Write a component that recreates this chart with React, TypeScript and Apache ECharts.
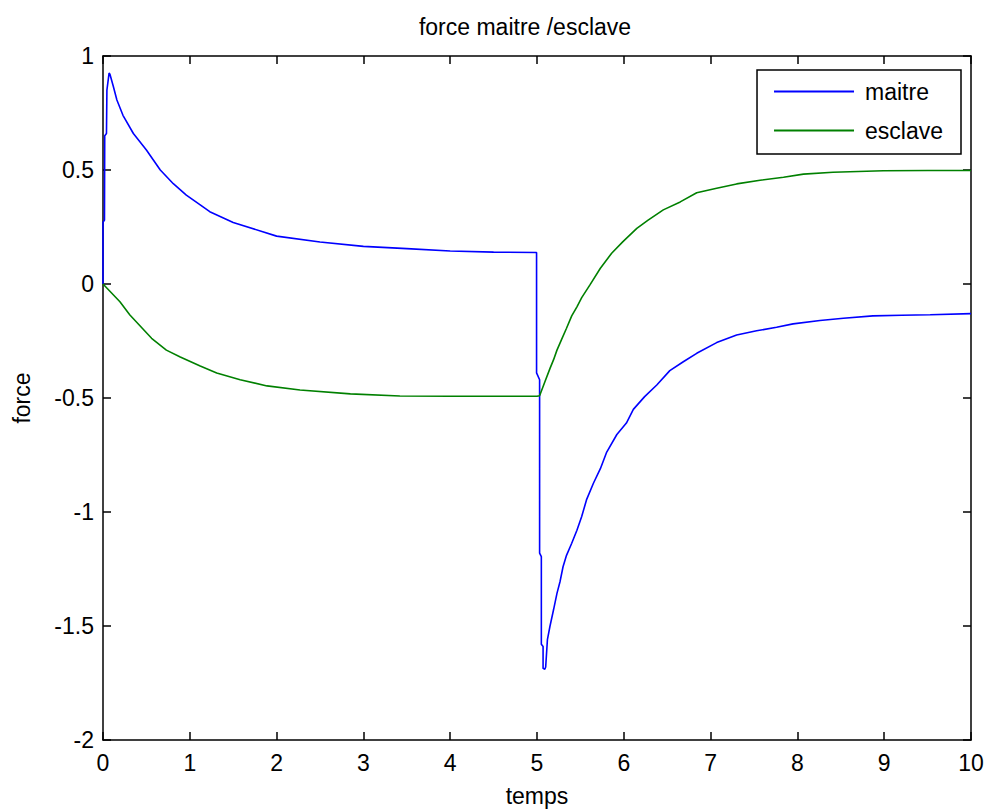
import React, { useEffect, useRef } from "react";
import * as echarts from "echarts";

const titleText = "force maitre /esclave";
const xName = "temps";
const yName = "force";
const seriesNames = ["maitre", "esclave"];

const xTicks = { min: 0, max: 10, interval: 1 };
const yTicks = { min: -2, max: 1, interval: 0.5 };

const maitreT = [
  0, 0, 0.017, 0.02, 0.04, 0.045, 0.07, 0.08, 0.12, 0.16, 0.23, 0.35, 0.5, 0.66, 0.81, 0.96, 1.12, 1.23, 1.5,
  2.0, 2.5, 3.0, 3.5, 4.0, 4.5, 4.995, 4.995, 5.03, 5.03, 5.05, 5.05, 5.07, 5.07, 5.09, 5.1, 5.12, 5.15, 5.19,
  5.23, 5.265, 5.3, 5.34, 5.4, 5.46, 5.515, 5.57, 5.65, 5.73, 5.8, 5.92, 6.03, 6.11, 6.24, 6.38, 6.53, 6.69,
  6.84, 7.07, 7.3, 7.53, 7.76, 7.95, 8.26, 8.53, 8.87, 9.2, 9.53, 10,
];
const maitreV = [
  0, 0.27, 0.28, 0.65, 0.66, 0.85, 0.925, 0.92, 0.865, 0.807, 0.74, 0.66, 0.588, 0.5, 0.44, 0.39, 0.347, 0.317,
  0.27, 0.21, 0.184, 0.165, 0.155, 0.145, 0.14, 0.138, -0.39, -0.42, -1.18, -1.196, -1.58, -1.59, -1.686, -1.69,
  -1.68, -1.56, -1.5, -1.43, -1.357, -1.306, -1.24, -1.19, -1.137, -1.08, -1.02, -0.947, -0.874, -0.81, -0.74,
  -0.66, -0.61, -0.55, -0.494, -0.443, -0.38, -0.34, -0.304, -0.257, -0.224, -0.205, -0.19, -0.175, -0.16,
  -0.15, -0.14, -0.137, -0.135, -0.13,
];

const esclaveT = [
  0, 0.195, 0.31, 0.56, 0.73, 0.89, 1.12, 1.31, 1.58, 1.89, 2.27, 2.85, 3.42, 4.0, 4.5, 5.0, 5.03, 5.09, 5.15,
  5.19, 5.23, 5.28, 5.34, 5.4, 5.46, 5.515, 5.61, 5.73, 5.86, 5.99, 6.15, 6.28, 6.455, 6.65, 6.84, 7.07, 7.3,
  7.57, 7.84, 8.07, 8.41, 8.99, 9.5, 10,
];
const esclaveV = [
  0, -0.078, -0.136, -0.238, -0.29, -0.32, -0.36, -0.39, -0.42, -0.447, -0.465, -0.482, -0.491, -0.492, -0.492,
  -0.492, -0.49, -0.43, -0.37, -0.333, -0.29, -0.246, -0.194, -0.14, -0.1, -0.06, -0.004, 0.069, 0.135, 0.186,
  0.244, 0.28, 0.325, 0.36, 0.4, 0.42, 0.439, 0.455, 0.468, 0.482, 0.49, 0.497, 0.498, 0.498,
];

const colors = ["#0000ff", "#008000"];
const FONT = "'Liberation Sans', Arial, sans-serif";

function zip(t: number[], v: number[]) {
  return t.map((x, i) => [x, v[i]]);
}

export default function App() {
  const ref = useRef<HTMLDivElement>(null);
  useEffect(() => {
    if (!ref.current) return;
    const chart = echarts.init(ref.current, null, { renderer: "svg" });
    const axisLine = { show: true, onZero: false, lineStyle: { color: "#000", width: 1.5 } };
    const tick = { show: true, inside: true, length: 8, lineStyle: { color: "#000", width: 1.5 } };
    const label = { color: "#000", fontSize: 23, fontFamily: FONT };
    chart.setOption({
      animation: false,
      backgroundColor: "#fff",
      textStyle: { fontFamily: FONT },
      title: {
        text: titleText,
        left: 520,
        top: 10,
        textAlign: "center",
        textStyle: { color: "#000", fontSize: 23, fontWeight: "normal", fontFamily: FONT },
      },
      grid: { left: 103, right: 17, top: 56, bottom: 71, containLabel: false, outerBoundsMode: "none" },
      legend: {
        orient: "vertical",
        right: 27,
        top: 70,
        padding: [10, 18, 12, 16],
        itemWidth: 80,
        itemHeight: 14,
        itemGap: 16,
        backgroundColor: "#fff",
        borderColor: "#000",
        borderWidth: 1.5,
        itemStyle: { opacity: 0 },
        textStyle: { color: "#000", fontSize: 23, fontFamily: FONT, padding: [0, 0, 0, 6] },
        data: seriesNames,
      },
      xAxis: [
        {
          type: "value",
          ...xTicks,
          position: "bottom",
          name: xName,
          nameLocation: "middle",
          nameGap: 44,
          nameTextStyle: { ...label },
          axisLine,
          axisTick: tick,
          axisLabel: { ...label, margin: 11 },
          splitLine: { show: false },
        },
        {
          type: "value",
          ...xTicks,
          position: "top",
          axisLine,
          axisTick: tick,
          axisLabel: { show: false },
          splitLine: { show: false },
        },
      ],
      yAxis: [
        {
          type: "value",
          ...yTicks,
          position: "left",
          name: yName,
          nameLocation: "middle",
          nameGap: 70,
          nameRotate: 90,
          nameTextStyle: { ...label },
          axisLine,
          axisTick: tick,
          axisLabel: { ...label, margin: 9 },
          splitLine: { show: false },
        },
        {
          type: "value",
          ...yTicks,
          position: "right",
          axisLine,
          axisTick: tick,
          axisLabel: { show: false },
          splitLine: { show: false },
        },
      ],
      series: [
        {
          name: seriesNames[0],
          type: "line",
          data: zip(maitreT, maitreV),
          symbol: "none",
          lineStyle: { color: colors[0], width: 1.6 },
          itemStyle: { color: colors[0] },
        },
        {
          name: seriesNames[1],
          type: "line",
          data: zip(esclaveT, esclaveV),
          symbol: "none",
          lineStyle: { color: colors[1], width: 1.6 },
          itemStyle: { color: colors[1] },
        },
      ],
    });
    return () => chart.dispose();
  }, []);
  return <div ref={ref} style={{ width: 988, height: 811, position: "absolute", left: 0, top: 0 }} />;
}
